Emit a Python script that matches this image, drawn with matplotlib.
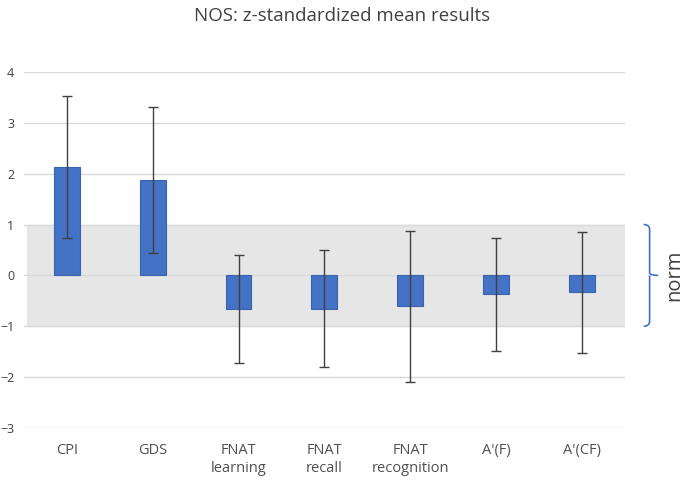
import numpy as np
import matplotlib.pyplot as plt
from matplotlib.path import Path
from matplotlib.patches import PathPatch

plt.rcParams['font.family'] = ['Open Sans', 'DejaVu Sans']

categories = ["CPI", "GDS", "FNAT\nlearning", "FNAT\nrecall", "FNAT\nrecognition", "A'(F)", "A'(CF)"]
means = [2.13, 1.88, -0.66, -0.66, -0.61, -0.37, -0.33]
errors = [1.39, 1.44, 1.07, 1.15, 1.48, 1.11, 1.19]
norm_low, norm_high = -1, 1

fig = plt.figure(figsize=(6.85, 4.83), dpi=100)
ax = fig.add_axes([0.035, 0.114, 0.877, 0.737])

x = np.arange(len(categories))
ax.axhspan(norm_low, norm_high, xmin=0.005, color='#e6e6e6', zorder=0)
ax.bar(x, means, width=0.3, color='#4472c4', edgecolor='#3a63ad', linewidth=0.8, zorder=2)
ax.errorbar(x, means, yerr=errors, fmt='none', ecolor='#404040', elinewidth=1,
            capsize=3.5, capthick=1, zorder=3)

ax.set_xlim(-0.5, len(categories) - 0.5)
ax.set_ylim(-3, 4)
ax.set_yticks(range(-3, 5))
ax.yaxis.grid(True, color='#d9d9d9', linewidth=1)
ax.set_axisbelow(True)
for s in ax.spines.values():
    s.set_visible(False)
ax.tick_params(length=0, colors='#404040', labelsize=9)
ax.tick_params(axis='y', pad=7)
ax.tick_params(axis='x', pad=11, labelsize=10.5)
ax.set_xticks(x)
ax.set_xticklabels(categories, color='#505050', linespacing=1.25)

# curly brace for the norm band
bx = len(categories) - 0.5 + 0.27
w = 0.12
mid = (norm_low + norm_high) / 2
verts = [(bx - 0.05, norm_high), (bx + 0.02, norm_high), (bx + 0.02, norm_high - 0.1),
         (bx + 0.02, mid + 0.05), (bx + 0.02, mid), (bx + w, mid),
         (bx + 0.02, mid), (bx + 0.02, mid - 0.05),
         (bx + 0.02, norm_low + 0.1), (bx + 0.02, norm_low), (bx - 0.05, norm_low)]
codes = [Path.MOVETO, Path.CURVE3, Path.CURVE3, Path.LINETO, Path.CURVE3, Path.CURVE3,
         Path.MOVETO, Path.CURVE3, Path.LINETO, Path.CURVE3, Path.CURVE3]
ax.add_patch(PathPatch(Path(verts, codes), fill=False, edgecolor='#4472c4', lw=1.2, clip_on=False))
ax.text(bx + 0.31, mid, "norm", rotation=90, ha='center', va='center', fontsize=14.5, color='#404040')

fig.text(0.5, 0.967, "NOS: z-standardized mean results", ha='center', va='center',
         fontsize=13.5, color='#404040')

fig.savefig('out.png', dpi=100)
